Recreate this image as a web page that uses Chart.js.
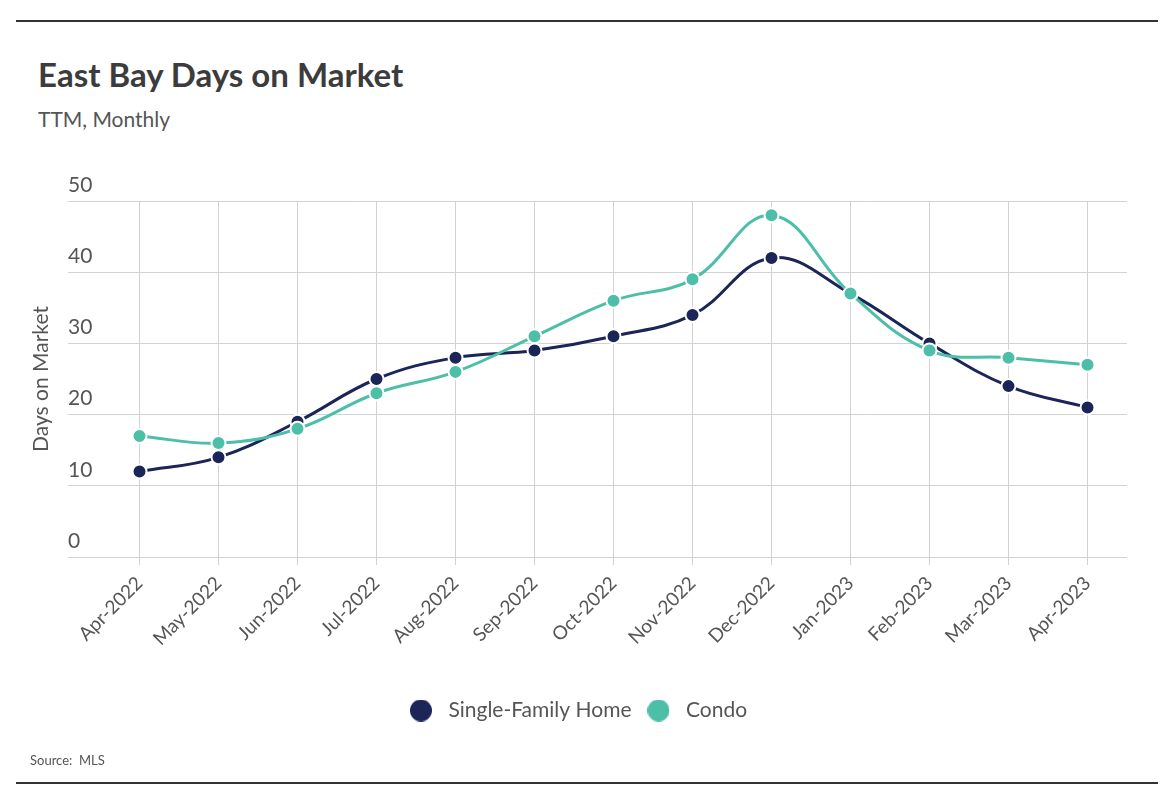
<!DOCTYPE html>
<html><head><meta charset="utf-8">
<script src="https://cdn.jsdelivr.net/npm/chart.js@4"></script>
<style>
html,body{margin:0;padding:0;background:#fff;}
#wrap{position:relative;width:1174px;height:808px;overflow:hidden;font-family:Lato, "Open Sans", sans-serif;}
#chart{position:absolute;left:0;top:0;}
.rule{position:absolute;left:16px;width:1142px;height:2px;background:#333;}
.txt{position:absolute;white-space:nowrap;}
#title{left:38px;top:58px;font-size:33px;line-height:33px;font-weight:700;color:#3c3c3c;}
#sub{left:38px;top:108px;font-size:21px;line-height:21px;color:#555;}
#src{left:30px;top:754px;font-size:13px;line-height:13px;color:#555;}
</style></head>
<body>
<div id="wrap">
  <div class="rule" style="top:20px"></div>
  <div class="txt" id="title">East Bay Days on Market</div>
  <div class="txt" id="sub">TTM, Monthly</div>
  <canvas id="chart" width="1174" height="808"></canvas>
  <div class="txt" id="src">Source:&nbsp; MLS</div>
  <div class="rule" style="top:782px"></div>
</div>
<script>
const months = ["Apr-2022","May-2022","Jun-2022","Jul-2022","Aug-2022","Sep-2022","Oct-2022","Nov-2022","Dec-2022","Jan-2023","Feb-2023","Mar-2023","Apr-2023"];
const singleFamily = [12,14,19,25,28,29,31,34,42,37,30,24,21];
const condo = [17,16,18,23,26,31,36,39,48,37,29,28,27];
const yMin = 0, yMax = 50, yStep = 10;

const NAVY = '#1b2557', TEAL = '#4dbfa8', TXT = '#555555', GRID = '#d2d2d2';
const FONT = 'Lato, "Open Sans", sans-serif';

function dot(color){
  const c = document.createElement('canvas');
  c.width = 22; c.height = 22;
  const g = c.getContext('2d');
  g.fillStyle = color; g.beginPath(); g.arc(11,11,11,0,Math.PI*2); g.fill();
  return c;
}

new Chart(document.getElementById('chart'), {
  type: 'line',
  data: {
    labels: months,
    datasets: [
      {label:'Single-Family Home', data: singleFamily, borderColor: NAVY, backgroundColor: NAVY,
       pointBackgroundColor: NAVY, pointBorderColor:'#fff', pointBorderWidth:2, pointRadius:7,
       borderWidth:3, tension:0.4, order:1},
      {label:'Condo', data: condo, borderColor: TEAL, backgroundColor: TEAL,
       pointBackgroundColor: TEAL, pointBorderColor:'#fff', pointBorderWidth:2, pointRadius:7,
       borderWidth:3, tension:0.4, order:0}
    ]
  },
  options: {
    responsive:false, animation:false, devicePixelRatio:1,
    layout:{padding:{left:24, right:47, top:201, bottom:77}},
    plugins:{
      tooltip:{enabled:false},
      legend:{
        position:'bottom',
        labels:{
          usePointStyle:true, pointStyleWidth:34, boxHeight:22, padding:10,
          color:TXT, font:{family:FONT, size:21},
          generateLabels(chart){
            return chart.data.datasets.map((ds,i)=>({
              text: ds.label, pointStyle: dot(ds.borderColor), fillStyle: ds.borderColor,
              strokeStyle: ds.borderColor, lineWidth:0, hidden: !chart.isDatasetVisible(i),
              datasetIndex:i, fontColor: TXT
            }));
          }
        }
      }
    },
    scales:{
      x:{
        offset:true,
        border:{display:false},
        grid:{color:GRID, tickLength:8, drawTicks:true},
        ticks:{autoSkip:false, minRotation:45, maxRotation:45, padding:7, color:TXT, font:{family:FONT, size:19}},
        afterFit(s){ s.height = 133; }
      },
      y:{
        min:yMin, max:yMax,
        border:{display:false},
        grid:{color:GRID, tickLength:32},
        ticks:{stepSize:yStep, mirror:true, padding:-32, crossAlign:'near', labelOffset:-16, color:TXT, font:{family:FONT, size:21}},
        title:{display:true, text:'Days on Market', color:TXT, font:{family:FONT, size:21}, padding:{top:5,bottom:0}},
        afterFit(s){ s.width = 76; }
      }
    }
  }
});
</script>
</body></html>
